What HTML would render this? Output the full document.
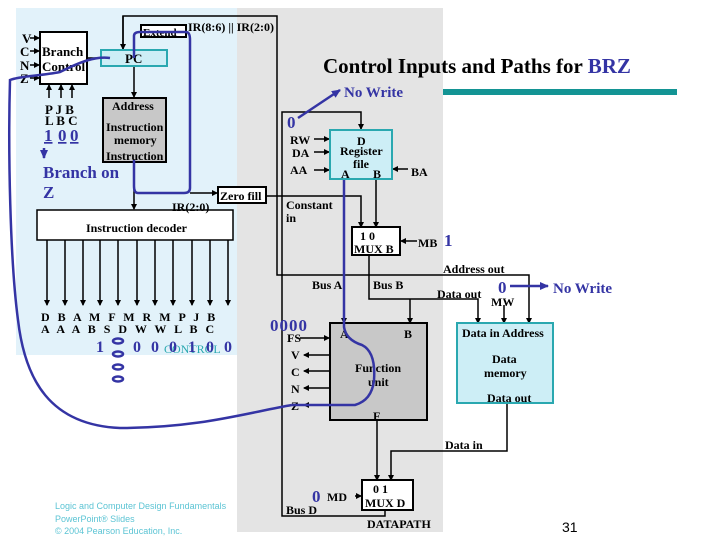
<!DOCTYPE html>
<html><head><meta charset="utf-8"><style>
html,body{margin:0;padding:0;background:#fff;}
svg{display:block;}
text{font-family:"Liberation Serif",serif;font-weight:bold;}
.k{fill:#000;}
.b{fill:#3434a4;}
</style></head><body>
<svg width="720" height="540" viewBox="0 0 720 540" xmlns="http://www.w3.org/2000/svg">
<defs>
<marker id="a" markerWidth="6" markerHeight="6" refX="5" refY="3" orient="auto" markerUnits="userSpaceOnUse"><path d="M0,0 L6,3 L0,6z" fill="#000"/></marker>
<marker id="ab" markerWidth="9" markerHeight="8" refX="8" refY="4" orient="auto" markerUnits="userSpaceOnUse"><path d="M0,0 L9,4 L0,8z" fill="#3434a4"/></marker>
</defs>
<rect x="237" y="8" width="206" height="524" fill="#e4e4e4"/>
<rect x="16" y="8" width="221" height="347" fill="#e2f2fa"/>
<rect x="443" y="89" width="234" height="6" fill="#139494"/>
<text x="323" y="73" font-size="21" fill="#000">Control Inputs and Paths for <tspan fill="#3434a4">BRZ</tspan></text>

<g stroke="#000" stroke-width="1.5" fill="none">
<polyline points="123,50 123,16 277,16 277,275 529,275 529,323" marker-end="url(#a)"/>
<line x1="123" y1="16" x2="123" y2="49" marker-end="url(#a)"/>
<line x1="134" y1="66" x2="134" y2="97" marker-end="url(#a)"/>
<line x1="134" y1="162" x2="134" y2="209" marker-end="url(#a)"/>
<line x1="190" y1="193" x2="217" y2="193" marker-end="url(#a)"/>
<line x1="87" y1="58" x2="100" y2="58"/>
<polyline points="266,196 361,196 361,227" marker-end="url(#a)"/>
<polyline points="385,510 385,516 282,516 282,112 361,112 361,129" marker-end="url(#a)"/>
<line x1="376" y1="179" x2="376" y2="227" marker-end="url(#a)"/>
<polyline points="369,255 369,299 478,299 478,323" marker-end="url(#a)"/>
<line x1="410" y1="299" x2="410" y2="323" marker-end="url(#a)"/>
<line x1="504" y1="305" x2="504" y2="323" marker-end="url(#a)"/>
<line x1="344" y1="179" x2="344" y2="323" marker-end="url(#a)"/>
<line x1="377" y1="420" x2="377" y2="480" marker-end="url(#a)"/>
<polyline points="507,403 507,451 391,451 391,480" marker-end="url(#a)"/>
<line x1="314" y1="139" x2="329" y2="139" marker-end="url(#a)"/>
<line x1="314" y1="152" x2="329" y2="152" marker-end="url(#a)"/>
<line x1="314" y1="170" x2="329" y2="170" marker-end="url(#a)"/>
<line x1="408" y1="169" x2="393" y2="169" marker-end="url(#a)"/>
<line x1="417" y1="241" x2="401" y2="241" marker-end="url(#a)"/>
<line x1="355" y1="496" x2="361" y2="496" marker-end="url(#a)"/>
<line x1="300" y1="338" x2="329" y2="338" marker-end="url(#a)"/>
<line x1="330" y1="355" x2="304" y2="355" marker-end="url(#a)"/>
<line x1="330" y1="371" x2="304" y2="371" marker-end="url(#a)"/>
<line x1="330" y1="388" x2="304" y2="388" marker-end="url(#a)"/>
<line x1="330" y1="405" x2="304" y2="405" marker-end="url(#a)"/>
<line x1="30" y1="38" x2="39" y2="38" marker-end="url(#a)"/>
<line x1="30" y1="51" x2="39" y2="51" marker-end="url(#a)"/>
<line x1="30" y1="65" x2="39" y2="65" marker-end="url(#a)"/>
<line x1="30" y1="78" x2="39" y2="78" marker-end="url(#a)"/>
<line x1="49" y1="98" x2="49" y2="85" marker-end="url(#a)"/>
<line x1="61" y1="98" x2="61" y2="85" marker-end="url(#a)"/>
<line x1="72" y1="98" x2="72" y2="85" marker-end="url(#a)"/>
<line x1="47" y1="240" x2="47" y2="305" marker-end="url(#a)"/>
<line x1="65" y1="240" x2="65" y2="305" marker-end="url(#a)"/>
<line x1="83" y1="240" x2="83" y2="305" marker-end="url(#a)"/>
<line x1="100" y1="240" x2="100" y2="305" marker-end="url(#a)"/>
<line x1="118" y1="240" x2="118" y2="305" marker-end="url(#a)"/>
<line x1="137" y1="240" x2="137" y2="305" marker-end="url(#a)"/>
<line x1="155" y1="240" x2="155" y2="305" marker-end="url(#a)"/>
<line x1="173" y1="240" x2="173" y2="305" marker-end="url(#a)"/>
<line x1="192" y1="240" x2="192" y2="305" marker-end="url(#a)"/>
<line x1="210" y1="240" x2="210" y2="305" marker-end="url(#a)"/>
<line x1="228" y1="240" x2="228" y2="305" marker-end="url(#a)"/>
</g>

<rect x="40" y="32" width="47" height="52" fill="#fff" stroke="#000" stroke-width="2"/>
<rect x="101" y="50" width="66" height="16" fill="#cdeef6" stroke="#2aa8b0" stroke-width="2"/>
<rect x="141" y="25" width="45" height="12" fill="#fff" stroke="#000" stroke-width="2"/>
<rect x="103" y="98" width="63" height="64" fill="#c8c8c8" stroke="#000" stroke-width="2"/>
<rect x="37" y="210" width="196" height="30" fill="#fff" stroke="#000" stroke-width="1.5"/>
<rect x="218" y="187" width="48" height="16" fill="#fff" stroke="#000" stroke-width="2"/>
<rect x="330" y="130" width="62" height="49" fill="#cdeef6" stroke="#2aa8b0" stroke-width="2"/>
<rect x="352" y="227" width="48" height="28" fill="#fff" stroke="#000" stroke-width="2"/>
<rect x="330" y="323" width="97" height="97" fill="#c8c8c8" stroke="#000" stroke-width="2"/>
<rect x="457" y="323" width="96" height="80" fill="#cdeef6" stroke="#2aa8b0" stroke-width="2"/>
<rect x="362" y="480" width="51" height="30" fill="#fff" stroke="#000" stroke-width="2"/>

<g font-size="13" class="k">
<text class="k" x="22" y="43">V</text><text class="k" x="20" y="56">C</text><text class="k" x="20" y="70">N</text><text class="k" x="20" y="83">Z</text>
<text class="k" x="42" y="56">Branch</text><text class="k" x="42" y="71">Control</text>
<text class="k" x="125" y="63">PC</text>
<text class="k" x="143" y="36" font-size="11">Extend</text>
<text class="k" x="188" y="31" font-size="12">IR(8:6) || IR(2:0)</text>
<text class="k" x="45" y="114">P J B</text><text class="k" x="45" y="125">L B C</text>
<text class="k" x="112" y="110" font-size="12">Address</text>
<text class="k" x="106" y="131" font-size="12">Instruction</text>
<text class="k" x="114" y="144" font-size="12">memory</text>
<text class="k" x="106" y="160" font-size="12">Instruction</text>
<text class="k" x="172" y="211" font-size="12">IR(2:0)</text>
<text class="k" x="220" y="200" font-size="12">Zero fill</text>
<text class="k" x="86" y="232" font-size="12">Instruction decoder</text>
<text class="k" x="41" y="321" font-size="12" letter-spacing="2.5">D B A M F M R M P J B</text>
<text class="k" x="41" y="333" font-size="12" letter-spacing="2.5">A A A B S D W W L B C</text>
<text class="k" x="290" y="144" font-size="12">RW</text><text class="k" x="292" y="157" font-size="12">DA</text><text class="k" x="290" y="174" font-size="12">AA</text>
<text class="k" x="357" y="145" font-size="12">D</text><text class="k" x="340" y="155" font-size="12">Register</text><text class="k" x="353" y="168" font-size="12">file</text>
<text class="k" x="341" y="178" font-size="12">A</text><text class="k" x="373" y="178" font-size="12">B</text>
<text class="k" x="411" y="176" font-size="12">BA</text>
<text class="k" x="286" y="209" font-size="12">Constant</text><text class="k" x="286" y="222" font-size="12">in</text>
<text class="k" x="360" y="240" font-size="12">1  0</text><text class="k" x="354" y="253" font-size="12">MUX B</text>
<text class="k" x="418" y="247" font-size="12">MB</text>
<text class="k" x="443" y="273" font-size="12">Address out</text>
<text class="k" x="312" y="289" font-size="12">Bus A</text><text class="k" x="373" y="289" font-size="12">Bus B</text>
<text class="k" x="437" y="298" font-size="12">Data out</text>
<text class="k" x="491" y="306" font-size="12">MW</text>
<text class="k" x="462" y="337" font-size="12">Data in Address</text>
<text class="k" x="492" y="363" font-size="12">Data</text><text class="k" x="484" y="377" font-size="12">memory</text>
<text class="k" x="487" y="402" font-size="12">Data out</text>
<text class="k" x="287" y="342" font-size="12">FS</text>
<text class="k" x="291" y="359" font-size="12">V</text><text class="k" x="291" y="376" font-size="12">C</text><text class="k" x="291" y="393" font-size="12">N</text><text class="k" x="291" y="410" font-size="12">Z</text>
<text class="k" x="340" y="338" font-size="12">A</text><text class="k" x="404" y="338" font-size="12">B</text>
<text class="k" x="355" y="372" font-size="12">Function</text><text class="k" x="368" y="386" font-size="12">unit</text>
<text class="k" x="373" y="420" font-size="12">F</text>
<text class="k" x="445" y="449" font-size="12">Data in</text>
<text class="k" x="373" y="493" font-size="12">0  1</text><text class="k" x="365" y="507" font-size="12">MUX D</text>
<text class="k" x="327" y="501" font-size="12">MD</text>
<text class="k" x="286" y="514" font-size="12">Bus D</text>
<text class="k" x="367" y="528" font-size="12">DATAPATH</text>
</g>

<text x="164" y="353" font-size="12" style="font-weight:normal" fill="#2aa8b0">CONTROL</text>
<g font-size="17">
<text x="44" y="141" class="b" text-decoration="underline">1</text>
<text x="58" y="141" class="b" text-decoration="underline">0</text>
<text x="70" y="141" class="b" text-decoration="underline">0</text>
<text x="43" y="178" class="b">Branch on</text>
<text x="43" y="198" class="b">Z</text>
<text x="287" y="128" class="b">0</text>
<text x="344" y="97" class="b" font-size="15">No Write</text>
<text x="444" y="246" class="b">1</text>
<text x="498" y="293" class="b">0</text>
<text x="553" y="293" class="b" font-size="15">No Write</text>
<text x="270" y="331" class="b" letter-spacing="1">0000</text>
<text x="312" y="502" class="b">0</text>
<g font-size="16">
<text x="96" y="352" class="b">1</text>
<text x="133" y="352" class="b">0</text>
<text x="151" y="352" class="b">0</text>
<text x="169" y="352" class="b">0</text>
<text x="188" y="352" class="b">1</text>
<text x="206" y="352" class="b">0</text>
<text x="224" y="352" class="b">0</text>
</g>
</g>
<g fill="none" stroke="#3434a4" stroke-width="2.5">
<ellipse cx="118" cy="341" rx="5" ry="2.5"/>
<ellipse cx="118" cy="354" rx="5" ry="2.5"/>
<ellipse cx="118" cy="367" rx="5" ry="2.5"/>
<ellipse cx="118" cy="379" rx="5" ry="2.5"/>
</g>
<g stroke="#3434a4" stroke-width="2.5" fill="none">
<line x1="44" y1="148" x2="44" y2="158" marker-end="url(#ab)"/>
<line x1="298" y1="118" x2="340" y2="90" marker-end="url(#ab)"/>
<line x1="510" y1="286" x2="548" y2="286" marker-end="url(#ab)"/>
<path d="M110,58 C95,56 80,62 60,72 C40,76 20,76 10,80 C8,150 10,260 18,320 C25,380 50,425 120,428 C200,428 250,412 292,405"/>
<path d="M134,58 L134,36 Q134,32 140,32 L186,32 Q190,32 190,40 L190,188 Q190,193 184,193 L138,193 Q134,193 134,186 L134,160"/>
<path d="M344,180 L344,327 Q346,340 362,345 Q376,352 374,380 Q372,400 355,405 L292,405"/>
</g>
<g font-size="9">
<text x="55" y="509" fill="#5cc4d4" style="font-weight:normal;font-family:'Liberation Sans',sans-serif">Logic and Computer Design Fundamentals</text>
<text x="55" y="522" fill="#5cc4d4" style="font-weight:normal;font-family:'Liberation Sans',sans-serif">PowerPoint® Slides</text>
<text x="55" y="534" fill="#5cc4d4" style="font-weight:normal;font-family:'Liberation Sans',sans-serif">© 2004 Pearson Education, Inc.</text>
</g>
<text x="562" y="532" font-size="14" fill="#000" style="font-weight:normal;font-family:'Liberation Sans',sans-serif">31</text>
</svg>
</body></html>
